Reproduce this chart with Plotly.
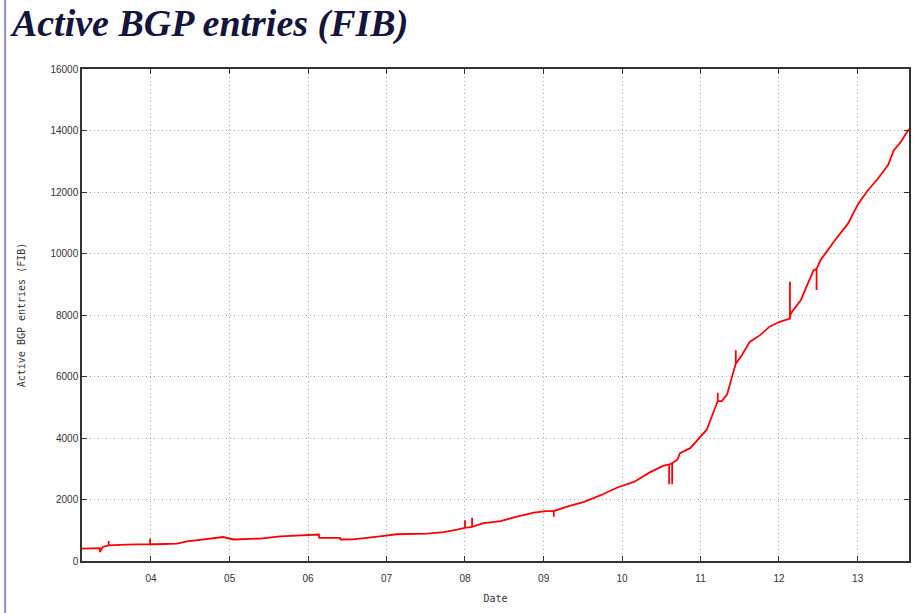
import plotly.graph_objects as go

# readings (with the short glitch spikes)
dates = [
    "2003-02-14", "2003-04-22", "2003-05-08", "2003-05-08", "2003-05-22",
    "2003-06-18", "2003-06-18", "2003-06-18", "2003-09-10", "2003-12-28",
    "2003-12-28", "2003-12-28", "2004-01-20", "2004-05-01", "2004-06-18",
    "2004-10-01", "2004-12-02", "2005-01-20", "2005-05-23", "2005-08-25",
    "2006-01-01", "2006-02-20", "2006-02-22", "2006-05-30", "2006-06-01",
    "2006-07-30", "2006-12-01", "2007-02-18", "2007-07-08", "2007-09-25",
    "2007-11-25", "2008-01-01", "2008-01-01", "2008-01-01", "2008-02-03",
    "2008-02-03", "2008-02-03", "2008-03-28", "2008-06-14", "2008-08-29",
    "2008-11-17", "2009-01-12", "2009-02-17", "2009-02-17", "2009-02-17",
    "2009-04-20", "2009-07-08", "2009-09-24", "2009-12-10", "2010-02-25",
    "2010-05-12", "2010-07-13", "2010-08-08", "2010-08-08", "2010-08-08",
    "2010-08-22", "2010-08-22", "2010-08-22", "2010-09-16", "2010-09-27",
    "2010-11-14", "2011-01-01", "2011-01-30", "2011-03-01", "2011-03-22",
    "2011-03-22", "2011-03-22", "2011-04-10", "2011-05-05", "2011-05-27",
    "2011-06-14", "2011-06-14", "2011-06-14", "2011-07-13", "2011-08-18",
    "2011-10-05", "2011-11-18", "2012-01-04", "2012-02-10", "2012-02-21",
    "2012-02-21", "2012-02-21", "2012-02-25", "2012-04-12", "2012-06-10",
    "2012-06-24", "2012-06-24", "2012-06-24", "2012-07-12", "2012-09-12",
    "2012-11-17", "2013-01-04", "2013-02-17", "2013-04-05", "2013-05-22",
    "2013-06-18", "2013-07-20", "2013-08-28",
]
entries = [
    400, 420, 420, 290, 455,
    510, 650, 510, 530, 545,
    730, 545, 545, 565, 640,
    730, 780, 700, 730, 800,
    860, 860, 750, 750, 700,
    705, 800, 870, 890, 940,
    1020, 1080, 1325, 1080, 1110,
    1410, 1110, 1230, 1300, 1440,
    1570, 1625, 1625, 1440, 1625,
    1765, 1925, 2140, 2390, 2570,
    2890, 3100, 3135, 2500, 3135,
    3180, 2500, 3180, 3300, 3510,
    3670, 4055, 4270, 4820, 5200,
    5475, 5200, 5200, 5420, 5980,
    6415, 6850, 6415, 6700, 7125,
    7345, 7620, 7780, 7840, 7880,
    9080, 7880, 8050, 8490, 9460,
    9500, 8810, 9500, 9780, 10380,
    10970, 11620, 12050, 12430, 12865,
    13350, 13620, 14050,
]

year_ticks = ["2004-01-01", "2005-01-01", "2006-01-01", "2007-01-01", "2008-01-01",
              "2009-01-01", "2010-01-01", "2011-01-01", "2012-01-01", "2013-01-01"]
year_labels = ["04", "05", "06", "07", "08", "09", "10", "11", "12", "13"]

fig = go.Figure()
fig.add_trace(go.Scatter(
    x=dates, y=entries, mode="lines",
    line=dict(color="#ff0000", width=1.8),
    showlegend=False,
))

axis_font = dict(family="Liberation Sans, Arial, sans-serif", size=10, color="#333333")
mono = dict(family="DejaVu Sans Mono, monospace", size=10, color="#333333")

fig.update_layout(
    width=914, height=613,
    paper_bgcolor="white", plot_bgcolor="white",
    margin=dict(l=82, r=5, t=69, b=52),
    title=dict(
        text="<b><i>Active BGP entries (FIB)</i></b>",
        font=dict(family="Liberation Serif, Times New Roman, serif", size=38, color="#14143c"),
        xref="container", x=0.013, xanchor="left",
        yref="container", y=0.985, yanchor="top",
    ),
    xaxis=dict(
        range=["2003-02-14", "2013-08-28"],
        tickvals=year_ticks, ticktext=year_labels,
        tickfont=axis_font, automargin=False, ticklabelstandoff=7,
        title=dict(text="Date", font=mono, standoff=12),
        showline=True, linecolor="#333333", linewidth=1.5, mirror="ticks",
        ticks="inside", ticklen=5, tickcolor="#333333",
        showgrid=True, gridcolor="#a8a8a8", griddash="1px,3px", gridwidth=1,
        zeroline=False,
    ),
    yaxis=dict(
        range=[0, 16000], dtick=2000, tickformat="d",
        tickfont=axis_font, automargin=False,
        title=dict(text="Active BGP entries (FIB)", font=mono, standoff=23),
        showline=True, linecolor="#333333", linewidth=1.5, mirror="ticks",
        ticks="inside", ticklen=5, tickcolor="#333333",
        showgrid=True, gridcolor="#a8a8a8", griddash="1px,3px", gridwidth=1,
        zeroline=False,
    ),
    shapes=[dict(
        type="line", xref="paper", yref="paper",
        x0=-0.093, x1=-0.093, y0=-0.11, y1=1.15,
        line=dict(color="#8c96bc", width=2),
    )],
)

# page body has a default 8px margin; drop it so the figure sits at the window origin
fig.write_html(
    "out.html",
    config={"displayModeBar": False},
    post_script="document.body.style.margin='0';document.body.style.overflow='hidden';",
)
